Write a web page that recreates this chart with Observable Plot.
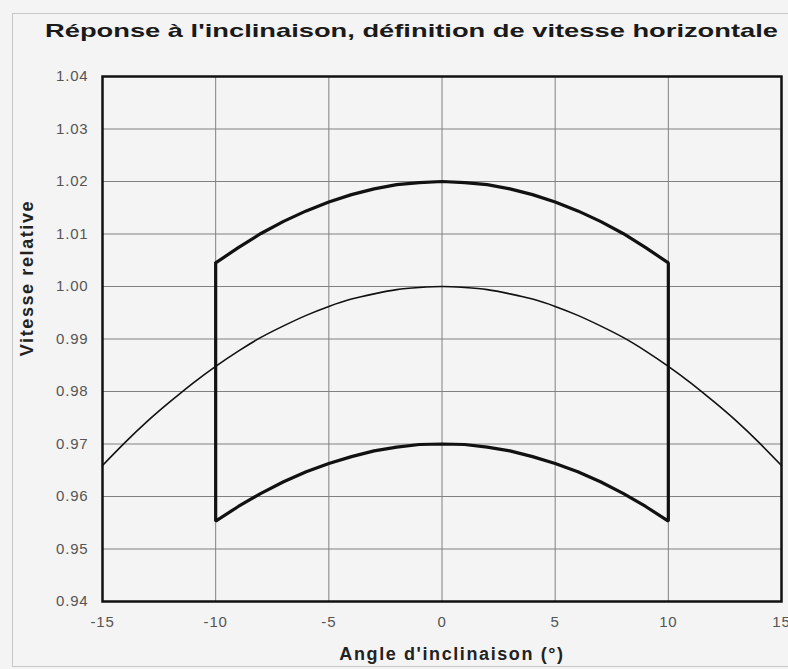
<!DOCTYPE html>
<html>
<head>
<meta charset="utf-8">
<script src="https://cdn.jsdelivr.net/npm/d3@7"></script>
<script src="https://cdn.jsdelivr.net/npm/@observablehq/plot@0.6"></script>
<style>
  html, body { margin: 0; padding: 0; background: #f4f4f4; overflow: hidden; }
  body { width: 788px; height: 669px; position: relative; font-family: "Liberation Sans", Arial, sans-serif; }
  #border { position: absolute; left: 12px; top: 13px; width: 800px; height: 654px; border: 1px solid #c8c8c8; box-sizing: border-box; }
  #title { position: absolute; left: 45px; top: 21px; white-space: nowrap; font-weight: bold; font-size: 19px; line-height: 20px; color: #1a1a1a; transform-origin: 0 0; }
  #chart { position: absolute; left: 0; top: 48px; }
  #chart svg { background: transparent; }
  g[aria-label="text"] text { font-weight: bold; font-size: 18px; fill: #222; letter-spacing: 1.6px; }
  g[aria-label="y-axis tick label"] text, g[aria-label="x-axis tick label"] text { font-size: 15px; fill: #555; letter-spacing: 0.8px; }
</style>
</head>
<body>
<div id="border"></div>
<div id="title"><span id="titleText">Réponse à l'inclinaison, définition de vitesse horizontale</span></div>
<div id="chart"></div>
<script>
// Angles (degrees) and values
const anglesThin = [-15,-14,-13,-12,-11,-10,-9,-8,-7,-6,-5,-4,-3,-2,-1,0,1,2,3,4,5,6,7,8,9,10,11,12,13,14,15];
const vitesseThin = [0.9659,0.9703,0.9744,0.9781,0.9816,0.9848,0.9877,0.9903,0.9925,0.9945,0.9962,0.9976,0.9986,0.9994,0.9998,1.0000,0.9998,0.9994,0.9986,0.9976,0.9962,0.9945,0.9925,0.9903,0.9877,0.9848,0.9816,0.9781,0.9744,0.9703,0.9659];

const anglesBand = [-10,-9,-8,-7,-6,-5,-4,-3,-2,-1,0,1,2,3,4,5,6,7,8,9,10];
const vitesseHaute = [1.0045,1.0074,1.0101,1.0124,1.0144,1.0161,1.0175,1.0186,1.0194,1.0198,1.0200,1.0198,1.0194,1.0186,1.0175,1.0161,1.0144,1.0124,1.0101,1.0074,1.0045];
const vitesseBasse = [0.9553,0.9581,0.9606,0.9628,0.9647,0.9663,0.9676,0.9687,0.9694,0.9699,0.9700,0.9699,0.9694,0.9687,0.9676,0.9663,0.9647,0.9628,0.9606,0.9581,0.9553];

const xTicks = [-15,-10,-5,0,5,10,15];
const yTicks = [0.94,0.95,0.96,0.97,0.98,0.99,1.00,1.01,1.02,1.03,1.04];
const yLabel = "Vitesse relative";
const xLabel = "Angle d'inclinaison (°)";

const thin = anglesThin.map((a, i) => ({a, v: vitesseThin[i]}));
// closed outline: upper arc left->right, then lower arc right->left, back to start
const band = [
  ...anglesBand.map((a, i) => ({a, v: vitesseHaute[i]})),
  ...anglesBand.map((a, i) => ({a, v: vitesseBasse[i]})).reverse()
];
band.push(band[0]);

const chart = Plot.plot({
  width: 788,
  height: 621,
  marginLeft: 102,
  marginRight: 7,
  marginTop: 28,
  marginBottom: 68,
  style: {fontFamily: "'Liberation Sans', Arial, sans-serif", background: "transparent", overflow: "visible"},
  x: {domain: [-15, 15]},
  y: {domain: [0.94, 1.04]},
  marks: [
    Plot.gridX(xTicks, {stroke: "#808080", strokeOpacity: 1, strokeWidth: 1}),
    Plot.gridY(yTicks, {stroke: "#808080", strokeOpacity: 1, strokeWidth: 1}),
    Plot.axisX(xTicks, {tickSize: 0, tickPadding: 15, tickFormat: d => String(d), label: null}),
    Plot.axisY(yTicks, {tickSize: 0, tickPadding: 14, tickFormat: d3.format(".2f"), label: null}),
    Plot.text([xLabel], {text: d => d, frameAnchor: "bottom", dx: 10, dy: 53, textAnchor: "middle", lineAnchor: "middle"}),
    Plot.text([yLabel], {text: d => d, frameAnchor: "left", rotate: -90, dx: -75, dy: -61, textAnchor: "middle"}),
    Plot.line(thin, {x: "a", y: "v", stroke: "#111", strokeWidth: 1.6, curve: "natural"}),
    Plot.line(band, {x: "a", y: "v", stroke: "#111", strokeWidth: 3.2, curve: "linear", strokeLinejoin: "miter"}),
    Plot.frame({stroke: "#111", strokeWidth: 2.5})
  ]
});
document.getElementById("chart").append(chart);

const t = document.getElementById("titleText");
const w = t.getBoundingClientRect().width;
document.getElementById("title").style.transform = `scaleX(${733 / w})`;
</script>
</body>
</html>
